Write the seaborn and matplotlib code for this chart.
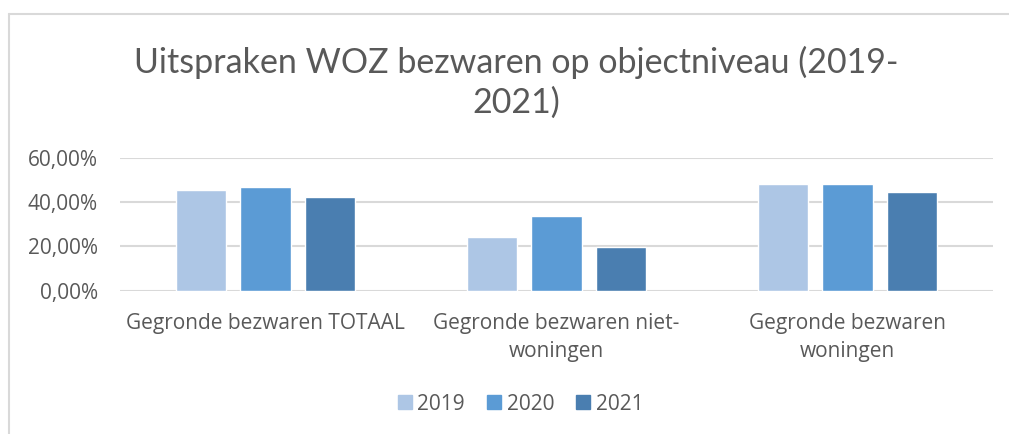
import pandas as pd
import numpy as np
import matplotlib.pyplot as plt
import seaborn as sns
from matplotlib.lines import Line2D
from matplotlib.ticker import FuncFormatter

# Data (percentages)
categories = ['Gegronde bezwaren TOTAAL', 'Gegronde bezwaren niet-\nwoningen', 'Gegronde bezwaren\nwoningen']
years = ['2019', '2020', '2021']
vals_2019 = [45.4, 24.4, 48.1]
vals_2020 = [46.8, 33.8, 48.3]
vals_2021 = [42.4, 19.8, 44.7]

df = pd.DataFrame({
    'Category': categories * 3,
    'Year': [y for y in years for _ in categories],
    'Value': vals_2019 + vals_2020 + vals_2021,
})

palette = {'2019': '#adc6e5', '2020': '#5b9bd5', '2021': '#4a7eb0'}
text_col = '#595959'
grid_col = '#d9d9d9'

sns.set_style('white')
plt.rcParams['font.family'] = ['Open Sans', 'DejaVu Sans']

fig = plt.figure(figsize=(10.09, 4.34), dpi=100)
ax = fig.add_axes([120 / 1009, 1 - 290.7 / 434, 873 / 1009, 133 / 434])

sns.barplot(data=df, x='Category', y='Value', hue='Year', palette=palette,
            width=0.665, gap=0.21, ax=ax, legend=False, saturation=1)

ax.set_ylim(0, 60)
ax.set_xlim(-0.5, 2.5)
ax.set_yticks([0, 20, 40, 60])
ax.yaxis.set_major_formatter(FuncFormatter(lambda v, p: f'{v:.2f}%'.replace('.', ',')))
ax.yaxis.grid(True, color=grid_col, linewidth=1.5)
ax.set_axisbelow(True)
for s in ax.spines.values():
    s.set_visible(False)
ax.tick_params(axis='y', length=0, colors=text_col, labelsize=15, pad=16)
ax.tick_params(axis='x', length=0, colors=text_col, labelsize=15, pad=16)
for lab in ax.get_xticklabels():
    lab.set_linespacing(1.45)
    lab.set_verticalalignment('top')
ax.set_xlabel('')
ax.set_ylabel('')

# Title
fig.text(516 / 1009, 1 - 82.5 / 434, 'Uitspraken WOZ bezwaren op objectniveau (2019-\n2021)',
         ha='center', va='center', fontsize=24.5, color=text_col, linespacing=1.3,
         family=['Lato', 'DejaVu Sans'])

# Legend
handles = [Line2D([], [], marker='s', linestyle='', markersize=10.5,
                  markerfacecolor=palette[y], markeredgecolor=palette[y]) for y in years]
fig.legend(handles, years, loc='center', bbox_to_anchor=(519 / 1009, 1 - 404 / 434),
           ncol=3, frameon=False, fontsize=15, labelcolor=text_col,
           handletextpad=0.1, columnspacing=0.9, handlelength=1.0)

# Chart-area border (top and left edges visible)
fig.add_artist(Line2D([8.5 / 1009, 8.5 / 1009], [0, 1 - 13.5 / 434], transform=fig.transFigure,
                      color=grid_col, linewidth=1.5))
fig.add_artist(Line2D([8.5 / 1009, 1], [1 - 13.5 / 434, 1 - 13.5 / 434], transform=fig.transFigure,
                      color=grid_col, linewidth=1.5))

fig.savefig('out.png', dpi=100)
